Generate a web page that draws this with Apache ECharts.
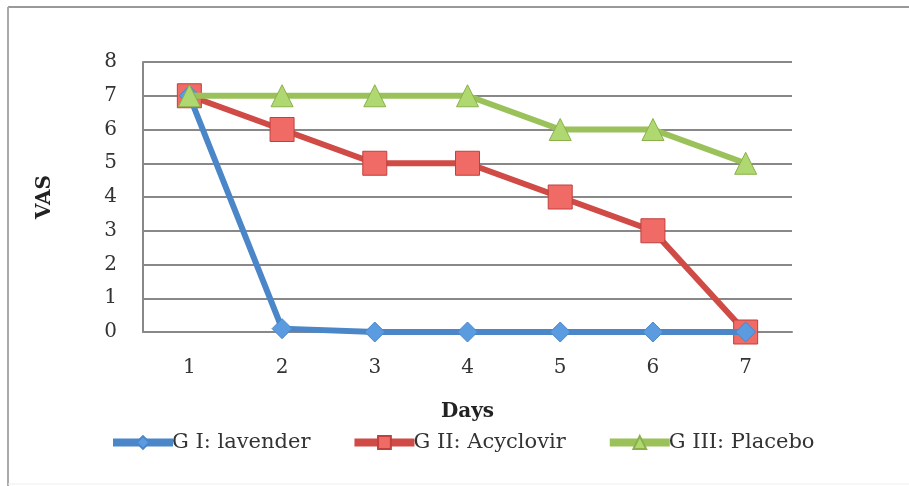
<!DOCTYPE html>
<html>
<head>
<meta charset="utf-8">
<script src="https://cdn.jsdelivr.net/npm/echarts@6/dist/echarts.min.js"></script>
<style>
  html, body { margin: 0; padding: 0; background: #fff; }
  #chart { width: 909px; height: 486px; }
</style>
</head>
<body>
<div id="chart"></div>
<script>
var days = ['1', '2', '3', '4', '5', '6', '7'];
var lavender = [7, 0.1, 0, 0, 0, 0, 0];
var acyclovir = [7, 6, 5, 5, 4, 3, 0];
var placebo = [7, 7, 7, 7, 6, 6, 5];
var seriesNames = ['G I: lavender', 'G II: Acyclovir', 'G III: Placebo'];

var fontFam = '"DejaVu Serif", "Liberation Serif", serif';

var chartDom = document.getElementById('chart');
var myChart = echarts.init(chartDom);

var option = {
    animation: false,
    backgroundColor: '#fff',
    textStyle: { fontFamily: fontFam },
    graphic: [
        { type: 'line', shape: { x1: 8, y1: 7, x2: 909, y2: 7 }, style: { stroke: '#999', lineWidth: 2 } },
        { type: 'line', shape: { x1: 8, y1: 7, x2: 8, y2: 486 }, style: { stroke: '#aaa', lineWidth: 2 } },
        { type: 'line', shape: { x1: 8, y1: 484, x2: 909, y2: 484 }, style: { stroke: '#eee', lineWidth: 1 } }
    ],
    grid: { left: 143, right: 117, top: 62, bottom: 154 },
    legend: {
        bottom: 28,
        left: 104,
        itemWidth: 60,
        itemHeight: 16,
        itemGap: 40,
        lineStyle: { width: 8 },
        textStyle: { fontSize: 21, color: '#333', fontFamily: fontFam, padding: [0, 0, 0, -6] },
        data: seriesNames
    },
    xAxis: {
        type: 'category',
        data: days,
        name: 'Days',
        nameLocation: 'middle',
        nameGap: 70,
        nameTextStyle: { fontSize: 20, fontWeight: 'bold', color: '#222', fontFamily: fontFam },
        axisLine: { lineStyle: { color: '#888', width: 2 } },
        axisTick: { show: false },
        axisLabel: { fontSize: 20, color: '#333', margin: 26 }
    },
    yAxis: {
        type: 'value',
        min: 0,
        max: 8,
        interval: 1,
        name: 'VAS',
        nameLocation: 'middle',
        nameGap: 88,
        nameTextStyle: { fontSize: 20, fontWeight: 'bold', color: '#222', fontFamily: fontFam },
        axisLine: { show: true, lineStyle: { color: '#888', width: 2 } },
        axisTick: { show: false },
        axisLabel: { fontSize: 20, color: '#333', margin: 26 },
        splitLine: { lineStyle: { color: '#888', width: 2 } }
    },
    series: [
        {
            name: seriesNames[0],
            type: 'line',
            data: lavender,
            symbol: 'diamond',
            symbolSize: 20,
            lineStyle: { width: 6, color: '#4a86c8' },
            itemStyle: { color: '#5b9be0', borderColor: '#4a86c8', borderWidth: 1 },
            z: 3
        },
        {
            name: seriesNames[1],
            type: 'line',
            data: acyclovir,
            symbol: 'rect',
            symbolSize: 24,
            lineStyle: { width: 6, color: '#d04a46' },
            itemStyle: { color: '#f06a66', borderColor: '#c0403c', borderWidth: 1 },
            z: 2
        },
        {
            name: seriesNames[2],
            type: 'line',
            data: placebo,
            symbol: 'triangle',
            symbolSize: 22,
            lineStyle: { width: 6, color: '#9bc25a' },
            itemStyle: { color: '#b0d870', borderColor: '#8ab04a', borderWidth: 1 },
            z: 4
        }
    ]
};

myChart.setOption(option);
window.addEventListener('resize', function () {
    myChart.resize();
});
</script>
</body>
</html>
